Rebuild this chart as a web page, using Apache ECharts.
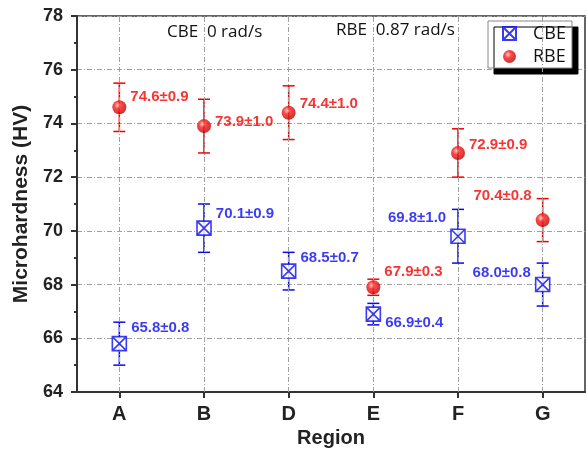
<!DOCTYPE html>
<html>
<head>
<meta charset="utf-8">
<script src="https://cdn.jsdelivr.net/npm/echarts@6/dist/echarts.min.js"></script>
<style>
  html, body { margin: 0; padding: 0; background: #fff; }
  #main { width: 587px; height: 450px; }
</style>
</head>
<body>
<div id="main"></div>
<script>
// data
var regions = ['A', 'B', 'D', 'E', 'F', 'G'];
var cbeMean = [65.8, 70.1, 68.5, 66.9, 69.8, 68.0];
var cbeErr = [0.8, 0.9, 0.7, 0.4, 1.0, 0.8];
var rbeMean = [74.6, 73.9, 74.4, 67.9, 72.9, 70.4];
var rbeErr = [0.9, 1.0, 1.0, 0.3, 0.9, 0.8];
var yTicks = [64, 66, 68, 70, 72, 74, 76, 78];

// where each value label sits relative to its point
var cbeLabelPos = [['right', 0, -16], ['right', 0, -14], ['right', 0, -13], ['right', 0, 9], ['left', 0, -18], ['left', 0, -12]];
var rbeLabelPos = [['right', 0, -10], ['right', 0, -4], ['right', 0, -9], ['right', 0, -15], ['right', 0, -8], ['left', 0, -24]];

var BLUE = '#0a0aee';
var RED = '#f50000';
var FONT = 'Liberation Sans, Arial, sans-serif';

var myChart = echarts.init(document.getElementById('main'));

function points(means, errs, pos) {
  return means.map(function (m, i) {
    return {
      value: [regions[i], m],
      label: {
        position: pos[i][0],
        offset: [pos[i][1], pos[i][2]],
        formatter: m.toFixed(1) + '±' + errs[i].toFixed(1)
      }
    };
  });
}

function errBars(means, errs) {
  return means.map(function (m, i) {
    return [i, m - errs[i], m + errs[i]];
  });
}

function renderErr(color) {
  return function (params, api) {
    var lo = api.coord([api.value(0), api.value(1)]);
    var hi = api.coord([api.value(0), api.value(2)]);
    var w = 6;
    var st = { stroke: color, lineWidth: 1.5 };
    return {
      type: 'group',
      children: [
        { type: 'line', shape: { x1: lo[0], y1: lo[1], x2: hi[0], y2: hi[1] }, style: st },
        { type: 'line', shape: { x1: lo[0] - w, y1: lo[1], x2: lo[0] + w, y2: lo[1] }, style: st },
        { type: 'line', shape: { x1: hi[0] - w, y1: hi[1], x2: hi[0] + w, y2: hi[1] }, style: st }
      ]
    };
  };
}

var gridDash = { color: '#a0a0a0', width: 1, type: [5, 2, 1, 2] };
var boxSymbol = 'path://M0,0L10,0L10,10L0,10Z M0,0L10,10 M10,0L0,10';
var ballColor = {
  type: 'radial', x: 0.38, y: 0.35, r: 0.7,
  colorStops: [
    { offset: 0, color: '#ffc0c0' },
    { offset: 0.35, color: '#ff1a1a' },
    { offset: 1, color: '#b00000' }
  ]
};

var option = {
  animation: false,
  textStyle: { fontFamily: FONT },
  grid: {
    left: 77, top: 16, right: 2, bottom: 58,
    outerBoundsMode: 'none',
    containLabel: false,
    show: true, borderColor: '#333', borderWidth: 1.5
  },
  legend: {
    orient: 'vertical',
    left: 488, top: 21,
    itemWidth: 13, itemHeight: 13,
    itemGap: 4,
    padding: [3, 6, 2, 14],
    backgroundColor: '#fff',
    borderColor: '#888',
    borderWidth: 1,
    shadowColor: '#000',
    shadowBlur: 0,
    shadowOffsetX: 6,
    shadowOffsetY: 6,
    textStyle: { fontSize: 18, lineHeight: 19, color: '#111', fontFamily: 'Open Sans, sans-serif', padding: [0, 0, 0, 12] },
    data: ['CBE', 'RBE']
  },
  xAxis: {
    type: 'category',
    data: regions,
    boundaryGap: true,
    name: 'Region',
    nameLocation: 'middle',
    nameGap: 36,
    nameTextStyle: { fontSize: 20, fontWeight: 'bold', color: '#222' },
    axisLine: { lineStyle: { color: '#333', width: 2 } },
    axisTick: { show: true, alignWithLabel: true, length: 6, lineStyle: { color: '#333', width: 2 } },
    axisLabel: { fontSize: 20, fontWeight: 'bold', color: '#222', margin: 12 },
    splitLine: { show: false }
  },
  yAxis: {
    type: 'value',
    min: yTicks[0], max: yTicks[yTicks.length - 1], interval: 2,
    name: 'Microhardness (HV)',
    nameLocation: 'middle',
    nameGap: 42,
    nameTextStyle: { fontSize: 21, fontWeight: 'bold', color: '#222' },
    axisLine: { show: true, lineStyle: { color: '#333', width: 2 } },
    axisTick: { show: true, length: 6, lineStyle: { color: '#333', width: 2 } },
    minorTick: { show: true, splitNumber: 2, length: 3, lineStyle: { color: '#333', width: 2 } },
    axisLabel: { fontSize: 18, fontWeight: 'bold', color: '#222', margin: 14 },
    splitLine: { show: true, lineStyle: gridDash }
  },
  graphic: [
    { type: 'text', left: 167, top: 24, style: { text: 'CBE  0 rad/s', font: '17px "Open Sans", sans-serif', fill: '#111' } },
    { type: 'text', left: 336, top: 22, style: { text: 'RBE  0.87 rad/s', font: '17px "Open Sans", sans-serif', fill: '#111' } }
  ],
  series: [
    {
      type: 'line',
      silent: true,
      data: [],
      markLine: {
        silent: true,
        symbol: 'none',
        label: { show: false },
        lineStyle: gridDash,
        data: regions.map(function (r) { return { xAxis: r }; })
      }
    },
    { type: 'custom', name: 'cbeErr', renderItem: renderErr(BLUE), data: errBars(cbeMean, cbeErr), z: 3 },
    { type: 'custom', name: 'rbeErr', renderItem: renderErr(RED), data: errBars(rbeMean, rbeErr), z: 3 },
    {
      type: 'scatter',
      name: 'CBE',
      symbol: boxSymbol,
      symbolSize: 14,
      itemStyle: { color: '#fff', borderColor: BLUE, borderWidth: 1.6 },
      label: { show: true, color: BLUE, fontSize: 15, fontWeight: 'bold', distance: 4 },
      data: points(cbeMean, cbeErr, cbeLabelPos),
      z: 5
    },
    {
      type: 'scatter',
      name: 'RBE',
      symbol: 'circle',
      symbolSize: 14,
      itemStyle: { color: ballColor },
      label: { show: true, color: RED, fontSize: 15, fontWeight: 'bold', distance: 4 },
      data: points(rbeMean, rbeErr, rbeLabelPos),
      z: 5
    }
  ]
};

myChart.setOption(option);
window.addEventListener('resize', function () { myChart.resize(); });
</script>
</body>
</html>
